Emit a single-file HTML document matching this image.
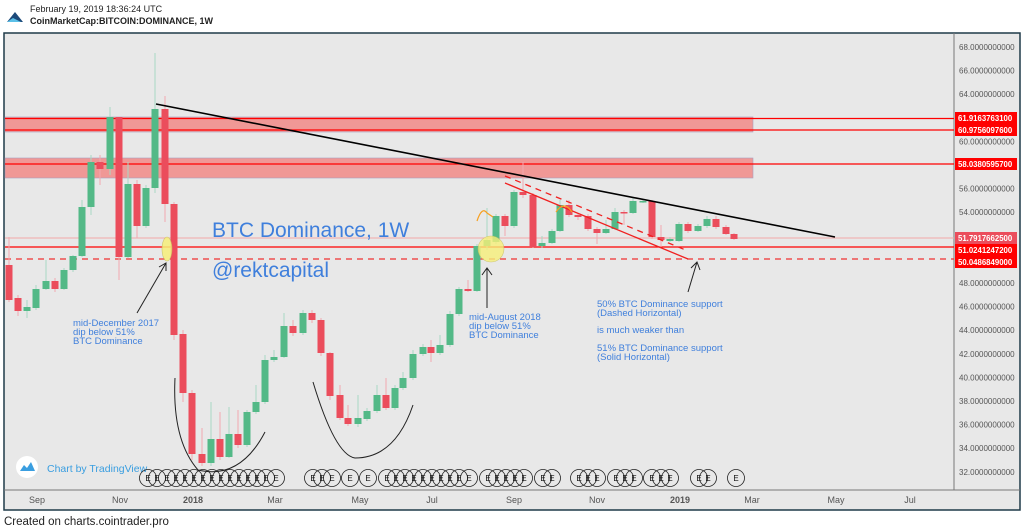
<!DOCTYPE html>
<html><head><meta charset="utf-8"><style>
html,body{margin:0;padding:0;background:#fff;width:1024px;height:532px;overflow:hidden;font-family:"Liberation Sans",sans-serif}
svg{position:absolute;left:0;top:0}
</style></head><body>
<svg width="1024" height="532" xmlns="http://www.w3.org/2000/svg" font-family="Liberation Sans, sans-serif">
<polygon points="7,22 15,12 23,22" fill="#1c4a7a"/>
<polygon points="7,22 13,18 21,22" fill="#5cc0e8"/>
<text x="30" y="12" font-size="9" fill="#222">February 19, 2019 18:36:24 UTC</text>
<text x="30" y="24" font-size="9" fill="#222" font-weight="bold">CoinMarketCap:BITCOIN:DOMINANCE, 1W</text>
<rect x="4" y="33" width="1016" height="477" fill="#e8e8e8" stroke="#1f3a48" stroke-width="1.5"/>
<line x1="954" y1="33" x2="954" y2="490" stroke="#777" stroke-width="1"/>
<line x1="4" y1="490" x2="1020" y2="490" stroke="#777" stroke-width="1"/>
<rect x="5" y="117" width="748" height="15" fill="#f09896" stroke="#a8a0c0" stroke-width="0.6"/>
<rect x="5" y="158" width="748" height="20" fill="#f09896" stroke="#a8a0c0" stroke-width="0.6"/>
<line x1="5" y1="118.5" x2="954" y2="118.5" stroke="#f00" stroke-width="1.2"/>
<line x1="5" y1="130" x2="954" y2="130" stroke="#f00" stroke-width="1.2"/>
<line x1="5" y1="164" x2="954" y2="164" stroke="#f00" stroke-width="1.2"/>
<line x1="5" y1="238" x2="954" y2="238" stroke="#f2a8a8" stroke-width="1"/>
<line x1="5" y1="247" x2="954" y2="247" stroke="#f00" stroke-width="1.3"/>
<line x1="5" y1="259" x2="954" y2="259" stroke="#f03030" stroke-width="1.3" stroke-dasharray="6,5"/>
<g id="candles"></g>
<line x1="156" y1="104" x2="835" y2="237" stroke="#000" stroke-width="1.6"/>
<line x1="505" y1="176" x2="688" y2="251" stroke="#f02020" stroke-width="1.3" stroke-dasharray="6,5"/>
<line x1="505" y1="183" x2="688" y2="259" stroke="#f02020" stroke-width="1.3"/>
<ellipse cx="167" cy="249" rx="5" ry="12" fill="#f7f07a" opacity="0.85" stroke="#c8c060" stroke-width="0.6"/>
<ellipse cx="491" cy="249" rx="13" ry="13" fill="#f7f07a" opacity="0.8" stroke="#c8c060" stroke-width="0.6"/>
<path d="M477,221 Q482,206 487,213 L493,217" stroke="#f7a020" fill="none" stroke-width="1.2"/>
<path d="M556,212 Q564,200 572,212" stroke="#f7a020" fill="none" stroke-width="1.2"/>
<path d="M175,378 Q172,440 198,470 Q240,480 265,432" stroke="#222" fill="none" stroke-width="1"/>
<path d="M313,382 Q335,455 355,458 Q395,458 413,405" stroke="#222" fill="none" stroke-width="1"/>
<g stroke="#222" stroke-width="1" fill="none">
<line x1="137" y1="313" x2="166" y2="263"/><polyline points="159,267 166,263 166,271"/>
<line x1="487" y1="308" x2="487" y2="268"/><polyline points="482,275 487,268 492,275"/>
<line x1="688" y1="292" x2="697" y2="262"/><polyline points="691,268 697,262 700,270"/>
</g>
<text x="212" y="237" font-size="21" fill="#3f7fdc">BTC Dominance, 1W</text>
<text x="212" y="277" font-size="21" fill="#3f7fdc">@rektcapital</text>
<g font-size="9.5" fill="#3f7fdc">
<text x="73" y="326">mid-December 2017</text><text x="73" y="335">dip below 51%</text><text x="73" y="344">BTC Dominance</text>
<text x="469" y="320">mid-August 2018</text><text x="469" y="329">dip below 51%</text><text x="469" y="338">BTC Dominance</text>
<text x="597" y="307">50% BTC Dominance support</text><text x="597" y="316">(Dashed Horizontal)</text>
<text x="597" y="333">is much weaker than</text>
<text x="597" y="351">51% BTC Dominance support</text><text x="597" y="360">(Solid Horizontal)</text>
</g>
<circle cx="27" cy="467" r="11" fill="#fff"/>
<path d="M20,471 L24,465 L27,468 L31,462 L35,471 Z" fill="#3a9ee0"/>
<text x="47" y="472" font-size="10.5" fill="#3a9ee0">Chart by TradingView</text>
<g id="es" fill="none" stroke="#222" stroke-width="0.8"></g>
<g font-size="8" fill="#111" text-anchor="middle">
<text x="148" y="481">E</text><text x="157" y="481">E</text><text x="167" y="481">E</text><text x="176" y="481">E</text><text x="185" y="481">E</text><text x="194" y="481">E</text><text x="203" y="481">E</text><text x="212" y="481">E</text><text x="221" y="481">E</text><text x="230" y="481">E</text><text x="239" y="481">E</text><text x="248" y="481">E</text><text x="257" y="481">E</text><text x="266" y="481">E</text><text x="276" y="481">E</text>
<text x="313" y="481">E</text><text x="322" y="481">E</text><text x="332" y="481">E</text><text x="350" y="481">E</text><text x="368" y="481">E</text><text x="387" y="481">E</text><text x="396" y="481">E</text><text x="405" y="481">E</text><text x="414" y="481">E</text><text x="423" y="481">E</text><text x="432" y="481">E</text><text x="441" y="481">E</text>
<text x="450" y="481">E</text><text x="459" y="481">E</text><text x="469" y="481">E</text><text x="488" y="481">E</text><text x="497" y="481">E</text><text x="506" y="481">E</text><text x="515" y="481">E</text><text x="524" y="481">E</text><text x="543" y="481">E</text><text x="552" y="481">E</text><text x="579" y="481">E</text><text x="588" y="481">E</text><text x="597" y="481">E</text><text x="616" y="481">E</text><text x="625" y="481">E</text><text x="634" y="481">E</text><text x="652" y="481">E</text><text x="661" y="481">E</text><text x="670" y="481">E</text><text x="699" y="481">E</text><text x="708" y="481">E</text><text x="736" y="481">E</text>
</g>
<g font-size="9" fill="#555" text-anchor="middle">
<text x="37" y="503">Sep</text><text x="120" y="503">Nov</text><text x="193" y="503" font-weight="bold">2018</text><text x="275" y="503">Mar</text><text x="360" y="503">May</text><text x="432" y="503">Jul</text><text x="514" y="503">Sep</text><text x="597" y="503">Nov</text><text x="680" y="503" font-weight="bold">2019</text><text x="752" y="503">Mar</text><text x="836" y="503">May</text><text x="910" y="503">Jul</text>
</g>
<g font-size="8" fill="#555">
<text x="959" y="50">68.0000000000</text><text x="959" y="73.6">66.0000000000</text><text x="959" y="97.2">64.0000000000</text><text x="959" y="144.4">60.0000000000</text><text x="959" y="191.6">56.0000000000</text><text x="959" y="215.2">54.0000000000</text><text x="959" y="286">48.0000000000</text><text x="959" y="309.6">46.0000000000</text><text x="959" y="333.2">44.0000000000</text><text x="959" y="356.8">42.0000000000</text><text x="959" y="380.4">40.0000000000</text><text x="959" y="404">38.0000000000</text><text x="959" y="427.6">36.0000000000</text><text x="959" y="451.2">34.0000000000</text><text x="959" y="474.8">32.0000000000</text>
</g>
<g>
<rect x="955" y="112" width="62" height="12" fill="#f00"/><rect x="955" y="124" width="62" height="12" fill="#f00"/>
<rect x="955" y="158" width="62" height="12" fill="#f00"/><rect x="955" y="232" width="62" height="12" fill="#eb4d5c"/>
<rect x="955" y="244" width="62" height="12" fill="#f00"/><rect x="955" y="256" width="62" height="12" fill="#f00"/>
</g>
<g font-size="7.8" fill="#fff" font-weight="bold">
<text x="958" y="121">61.9163763100</text><text x="958" y="133">60.9756097600</text><text x="958" y="167">58.0380595700</text><text x="958" y="241">51.7917662500</text><text x="958" y="253">51.0241247200</text><text x="958" y="265">50.0486849000</text>
</g>
<text x="4" y="525" font-size="11.5" fill="#222">Created on charts.cointrader.pro</text>
</svg>
<script>
var d=[[9,265,300,'r',237,302],[18,298,311,'r',295,316],[27,307,311,'g',300,318],[36,289,308,'g',285,310],[46,281,289,'g',260,290],[55,281,289,'r',278,292],[64,270,289,'g',268,290],[73,256,270,'g',255,272],[82,207,256,'g',200,257],[91,162,207,'g',155,215],[100,162,169,'r',155,185],[110,117,169,'g',107,175],[119,117,257,'r',117,280],[128,184,257,'g',162,258],[137,184,226,'r',180,238],[146,188,226,'g',185,228],[155,109,188,'g',53,193],[165,109,204,'r',96,222],[174,204,335,'r',202,340],[183,334,393,'r',330,402],[192,393,454,'r',390,460],[202,454,463,'r',428,466],[211,439,463,'g',402,466],[220,439,457,'r',412,460],[229,434,457,'g',407,458],[238,434,445,'r',410,448],[247,412,445,'g',410,447],[256,402,412,'g',385,414],[265,360,402,'g',355,404],[274,357,360,'g',350,362],[284,326,357,'g',313,358],[293,326,333,'r',320,336],[303,313,333,'g',310,335],[312,313,320,'r',310,323],[321,320,353,'r',318,356],[330,353,396,'r',352,400],[340,395,418,'r',385,420],[348,418,424,'r',405,426],[358,418,424,'g',395,427],[367,411,419,'g',408,421],[377,395,411,'g',385,413],[386,395,408,'r',378,410],[395,388,408,'g',385,410],[403,378,388,'g',372,390],[413,354,378,'g',350,380],[423,347,354,'g',344,356],[431,347,353,'r',340,362],[440,345,353,'g',335,355],[450,314,345,'g',311,347],[459,289,314,'g',287,316],[468,289,291,'r',280,292],[477,246,291,'g',244,292],[487,240,246,'g',208,250],[496,216,242,'g',214,244],[505,216,226,'r',214,236],[514,192,226,'g',190,228],[523,192,195,'r',162,198],[533,195,247,'r',193,248],[542,243,246,'g',236,248],[552,231,243,'g',229,244],[560,205,231,'g',200,232],[569,205,215,'r',200,217],[578,215,217,'r',213,220],[588,216,229,'r',214,231],[597,229,233,'r',227,244],[606,229,233,'g',220,234],[615,212,229,'g',208,230],[624,212,213,'r',210,225],[633,201,213,'g',198,214],[643,201,202,'g',199,203],[652,201,237,'r',200,239],[661,237,240,'r',225,247],[670,239,241,'g',237,242],[679,224,241,'g',222,242],[688,224,231,'r',222,233],[698,226,231,'g',224,232],[707,219,226,'g',216,228],[716,219,227,'r',216,229],[726,227,234,'r',225,235],[734,234,239,'r',233,240]];
var s='';d.forEach(function(c){var col=c[3]=='g'?'#53b987':'#eb4d5c';var wc=c[3]=='g'?'#a8d8c4':'#f2a8b0';
s+='<line x1="'+c[0]+'" x2="'+c[0]+'" y1="'+c[4]+'" y2="'+c[5]+'" stroke="'+wc+'" stroke-width="1"/>';
s+='<rect x="'+(c[0]-3.5)+'" y="'+c[1]+'" width="7" height="'+Math.max(1.5,c[2]-c[1])+'" fill="'+col+'"/>';});
document.getElementById('candles').innerHTML=s;
var xs=[148,157,167,176,185,194,203,212,221,230,239,248,257,266,276,313,322,332,350,368,387,396,405,414,423,432,441,450,459,469,488,497,506,515,524,543,552,579,588,597,616,625,634,652,661,670,699,708,736];
var e='';xs.forEach(function(x){e+='<circle cx="'+x+'" cy="478" r="8.5"/>';});
document.getElementById('es').innerHTML=e;
</script>
</body></html>
